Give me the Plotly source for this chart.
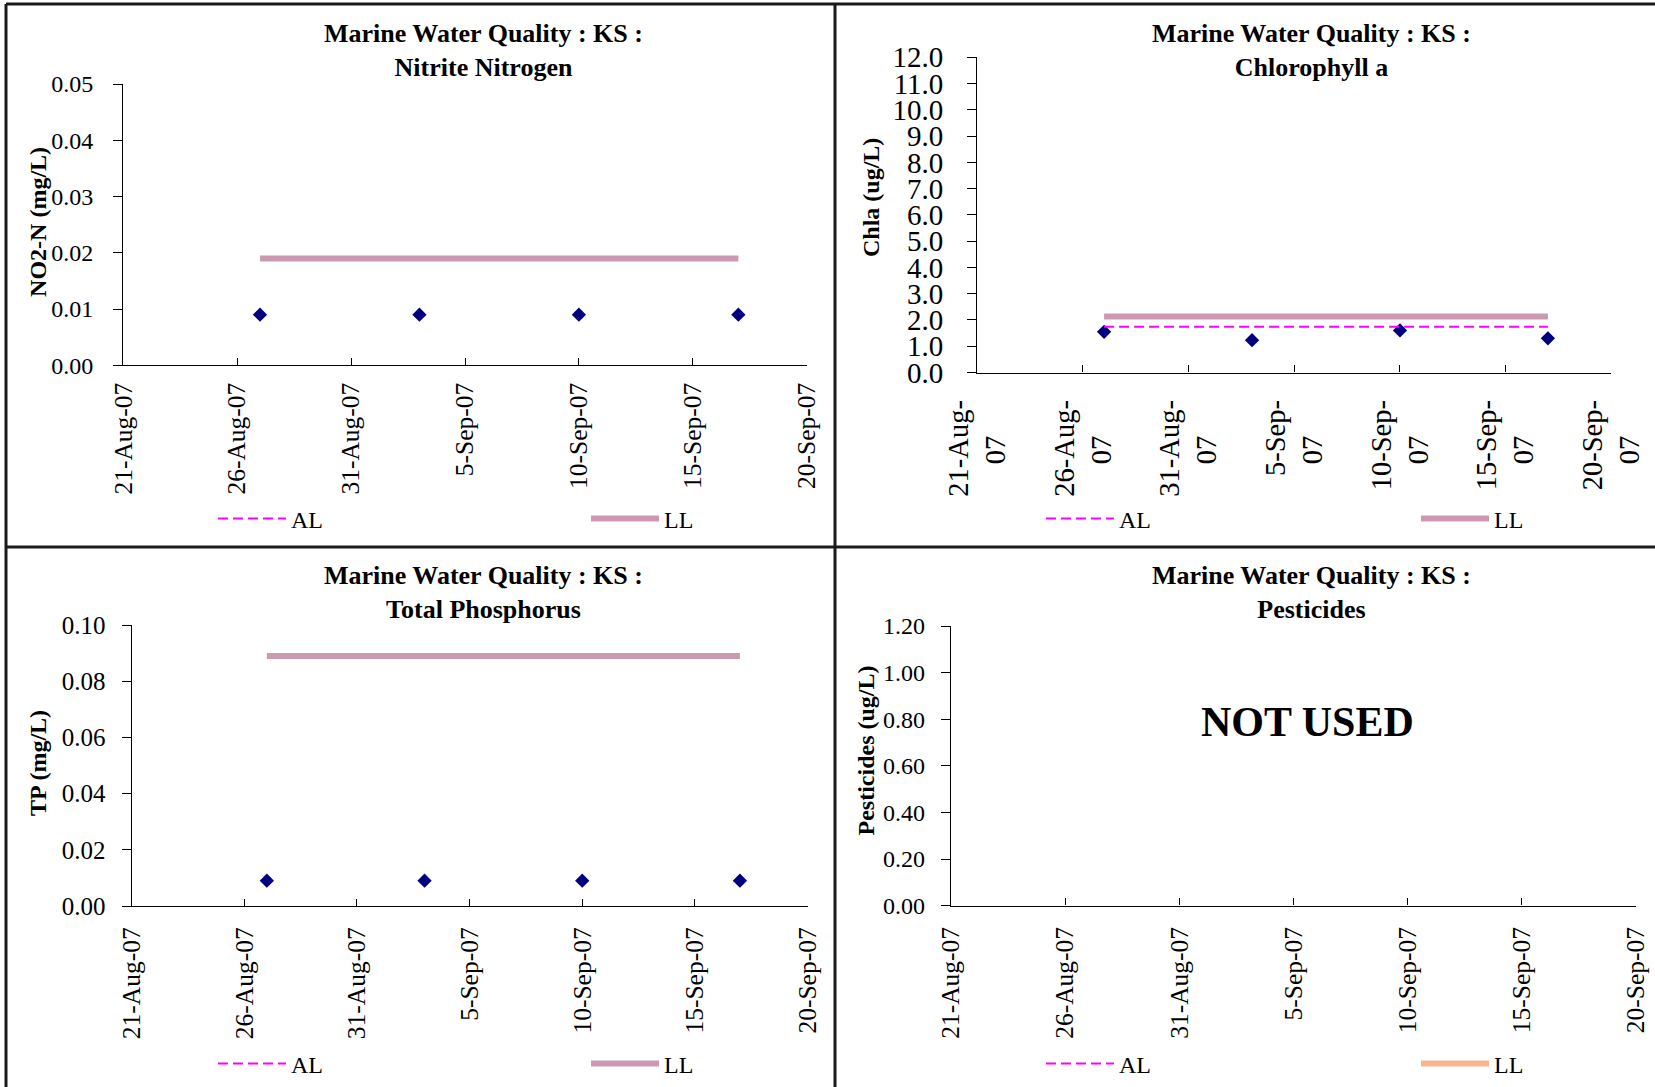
import plotly.graph_objects as go

W, H = 1655, 1087
FONT = "Liberation Serif"

# ── data ─────────────────────────────────────────────────────────────────────
DATES = ["2007-08-27", "2007-09-03", "2007-09-10", "2007-09-17"]

NO2N = [0.009, 0.009, 0.009, 0.009]
NO2N_AL = [None, None, None, None]
NO2N_LL = [0.019, 0.019, 0.019, 0.019]

CHLA = [1.55, 1.23, 1.60, 1.30]
CHLA_AL = [1.74, 1.74, 1.74, 1.74]
CHLA_LL = [2.13, 2.13, 2.13, 2.13]

TP = [0.009, 0.009, 0.009, 0.009]
TP_AL = [None, None, None, None]
TP_LL = [0.089, 0.089, 0.089, 0.089]

PEST = [None, None, None, None]
PEST_AL = [None, None, None, None]
PEST_LL = [None, None, None, None]

TICK_DATES = ["2007-08-21", "2007-08-26", "2007-08-31", "2007-09-05",
              "2007-09-10", "2007-09-15", "2007-09-20"]
TICK_TEXT = ["21-Aug-07", "26-Aug-07", "31-Aug-07", "5-Sep-07",
             "10-Sep-07", "15-Sep-07", "20-Sep-07"]
# chlorophyll panel wraps the year onto a second line
TICK_TEXT_WRAP = [t[:-2] + "<br>" + t[-2:] + "\u00a0" * 5 for t in TICK_TEXT]

LL_PINK = "#cc99b3"
LL_PEACH = "#f9b48a"
AL_MAGENTA = "#ff00ff"
NAVY = "#000080"


def fx(x):
    return x / W


def fy(y):
    return 1 - y / H


# pixel boxes (left, right, top, bottom) of each plot area
panels = [
    dict(name="Nitrite Nitrogen", ytitle="NO2-N (mg/L)", box=(123.3, 806.7, 84, 365.3),
         yrange=[0, 0.05], dtick=0.01, fmt=".2f", vals=NO2N, al=NO2N_AL, ll=NO2N_LL,
         ll_color=LL_PINK, yfs=24, xfs=25.5, xtext=TICK_TEXT, xstand=6, ystand=15,
         title_c=(483.5, 50.5), ylab=(37.3, 221.6), leg=(218, 591, 519)),
    dict(name="Chlorophyll a", ytitle="Chla (ug/L)", box=(977.3, 1611.3, 57.3, 372.5),
         yrange=[0, 12], dtick=1, fmt=".1f", vals=CHLA, al=CHLA_AL, ll=CHLA_LL,
         ll_color=LL_PINK, yfs=29, xfs=28.5, xtext=TICK_TEXT_WRAP, xstand=15, ystand=18,
         title_c=(1311, 50.5), ylab=(871, 198), leg=(1046, 1421, 519)),
    dict(name="Total Phosphorus", ytitle="TP (mg/L)", box=(131.7, 807.5, 625, 906),
         yrange=[0, 0.1], dtick=0.02, fmt=".2f", vals=TP, al=TP_AL, ll=TP_LL,
         ll_color=LL_PINK, yfs=25, xfs=25.5, xtext=TICK_TEXT, xstand=10, ystand=11,
         title_c=(483.5, 592), ylab=(37.3, 762.6), leg=(218, 591, 1064)),
    dict(name="Pesticides", ytitle="Pesticides (ug/L)", box=(951, 1636, 626, 905.6),
         yrange=[0, 1.2], dtick=0.2, fmt=".2f", vals=PEST, al=PEST_AL, ll=PEST_LL,
         ll_color=LL_PEACH, yfs=24, xfs=25.5, xtext=TICK_TEXT, xstand=10, ystand=11,
         title_c=(1311, 592), ylab=(865, 750.5), leg=(1046, 1421, 1064)),
]

fig = go.Figure()
annotations = []

for i, p in enumerate(panels, start=1):
    sfx = "" if i == 1 else str(i)
    xa, ya = "x" + sfx, "y" + sfx
    n_al, n_ll = 2 * i - 1, 2 * i
    lg_al = "legend" if n_al == 1 else "legend%d" % n_al
    lg_ll = "legend%d" % n_ll
    l, r, t, b = p["box"]

    fig.add_scatter(x=DATES, y=p["vals"], mode="markers",
                    marker=dict(symbol="diamond", size=11, color=NAVY),
                    xaxis=xa, yaxis=ya, showlegend=False)
    fig.add_scatter(x=DATES, y=p["al"], mode="lines", name="AL",
                    line=dict(color=AL_MAGENTA, width=2, dash="10px,5px"),
                    xaxis=xa, yaxis=ya, legend=lg_al, showlegend=True)
    fig.add_scatter(x=DATES, y=p["ll"], mode="lines", name="LL",
                    line=dict(color=p["ll_color"], width=6),
                    xaxis=xa, yaxis=ya, legend=lg_ll, showlegend=True)

    fig.layout["xaxis" + sfx] = dict(
        domain=[fx(l), fx(r)], anchor=ya, type="date",
        range=[TICK_DATES[0], TICK_DATES[-1]],
        tickmode="array", tickvals=TICK_DATES, ticktext=p["xtext"],
        tickangle=-90, ticks="inside", ticklen=7, tickcolor="#000",
        ticklabelstandoff=p["xstand"], automargin=False,
        showline=True, linecolor="#000", linewidth=1.3, showgrid=False, zeroline=False,
        tickfont=dict(family=FONT, size=p["xfs"], color="#000"),
    )
    fig.layout["yaxis" + sfx] = dict(
        domain=[fy(b), fy(t)], anchor=xa, range=p["yrange"], dtick=p["dtick"],
        tick0=0, tickformat=p["fmt"], ticks="outside", ticklen=9, tickcolor="#000",
        ticklabelstandoff=p["ystand"], automargin=False,
        showline=True, linecolor="#000", linewidth=1.3, showgrid=False, zeroline=False,
        tickfont=dict(family=FONT, size=p["yfs"], color="#000"),
    )
    # one single-entry legend per item so AL and LL sit far apart like the original
    for lg, lx in ((lg_al, p["leg"][0]), (lg_ll, p["leg"][1])):
        fig.layout[lg] = dict(
            visible=True, orientation="h", xref="container", yref="container",
            x=fx(lx - 5), y=fy(p["leg"][2]), xanchor="left", yanchor="middle",
            itemwidth=68, borderwidth=0,
            font=dict(family=FONT, size=24, color="#000"), bgcolor="rgba(0,0,0,0)",
        )

    annotations.append(dict(
        text="<b>Marine Water Quality : KS :<br>" + p["name"] + "</b>",
        x=fx(p["title_c"][0]), y=fy(p["title_c"][1]), xref="paper", yref="paper",
        xanchor="center", yanchor="middle", showarrow=False,
        font=dict(family=FONT, size=26, color="#000"),
    ))
    annotations.append(dict(
        text="<b>" + p["ytitle"] + "</b>", textangle=-90,
        x=fx(p["ylab"][0]), y=fy(p["ylab"][1]), xref="paper", yref="paper",
        xanchor="center", yanchor="middle", showarrow=False,
        font=dict(family=FONT, size=24, color="#000"),
    ))

annotations.append(dict(
    text="<b>NOT USED</b>", x=fx(1307), y=fy(722), xref="paper", yref="paper",
    xanchor="center", yanchor="middle", showarrow=False,
    font=dict(family=FONT, size=42, color="#000"),
))

# panel frames
border = dict(color="#1a1a1a", width=3)
shapes = [
    dict(type="line", xref="paper", yref="paper", x0=fx(6), x1=1, y0=fy(4), y1=fy(4), line=border),
    dict(type="line", xref="paper", yref="paper", x0=fx(6), x1=fx(6), y0=0, y1=fy(4), line=border),
    dict(type="line", xref="paper", yref="paper", x0=fx(835), x1=fx(835), y0=0, y1=fy(4), line=border),
    dict(type="line", xref="paper", yref="paper", x0=fx(6), x1=1, y0=fy(547), y1=fy(547), line=border),
]

fig.update_layout(
    width=W, height=H, autosize=False, showlegend=True,
    margin=dict(l=0, r=0, t=0, b=0, autoexpand=False),
    paper_bgcolor="white", plot_bgcolor="white",
    font=dict(family=FONT, color="#000"),
    annotations=annotations, shapes=shapes,
)

fig.write_html("out.html", config={"displayModeBar": False},
               post_script="document.body.style.margin='0';")
